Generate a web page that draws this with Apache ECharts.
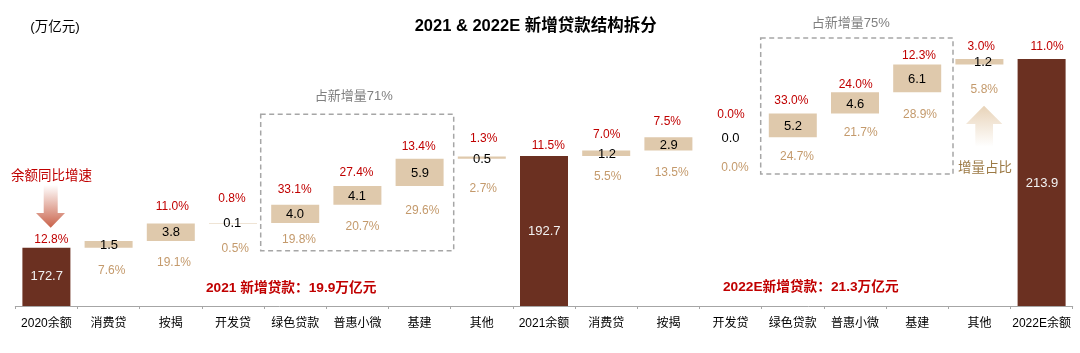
<!DOCTYPE html>
<html>
<head>
<meta charset="utf-8">
<style>
html,body{margin:0;padding:0;background:#fff;}
#chart{width:1080px;height:353px;}
</style>
<script src="https://cdn.jsdelivr.net/npm/echarts@6/dist/echarts.min.js"></script>
</head>
<body>
<div id="chart"></div>
<script>
var categories = ['2020余额','消费贷','按揭','开发贷','绿色贷款','普惠小微','基建','其他','2021余额','消费贷','按揭','开发贷','绿色贷款','普惠小微','基建','其他','2022E余额'];
// 余额 (万亿元)，非余额列为 null
var balances = [172.7,null,null,null,null,null,null,null,192.7,null,null,null,null,null,null,null,213.9];
// 新增贷款 (万亿元)
var increments = [null,1.5,3.8,0.1,4.0,4.1,5.9,0.5,null,1.2,2.9,0.0,5.2,4.6,6.1,1.2,null];
// 悬空柱底部
var bases = [null,172.7,174.2,178.0,178.1,182.1,186.2,192.1,null,192.7,193.9,196.8,196.8,202.0,206.6,212.7,null];
var growthLabels = ['12.8%',null,'11.0%','0.8%','33.1%','27.4%','13.4%','1.3%','11.5%','7.0%','7.5%','0.0%','33.0%','24.0%','12.3%','3.0%','11.0%'];
var shareLabels = [null,'7.6%','19.1%','0.5%','19.8%','20.7%','29.6%','2.7%',null,'5.5%','13.5%','0.0%','24.7%','21.7%','28.9%','5.8%',null];

// 标签相对柱顶的手动偏移 (px)
var growthNudge = [[4.9,-7.7],null,[1.5,-16.7],[-1,-24.6],[-.5,-14.6],[-.9,-12.7],[-.9,-12.6],[1.9,-17.7],[4.3,-10.2],[.5,-15.4],[-1.1,-15.1],[.4,-22.4],[-1.5,-12.6],[.7,-8.1],[1.8,-8.8],[1.9,-12.6],[5.4,-12.6]];
var valueNudge = [[.3,29],[.4,4.2],[.2,8.9],[-.7,.8],[-.2,9.4],[-.4,11],[.4,14.1],[.2,2.9],[.3,75.8],[.8,3.9],[.3,7.9],[-.1,1.2],[.2,12.7],[.3,11.6],[-.2,14.6],[3.6,3.4],[.4,124.4]];
var shareNudge = [null,[3.1,29.5],[3.2,39.6],[2.3,26.1],[3.8,35.4],[5.1,41.3],[2.7,51.7],[1.5,32.6],null,[1.5,25.9],[3.3,35.2],[4.4,30.2],[4.2,43.4],[5.7,39.9],[2.8,49.9],[4.9,30.7],null];

var FONT = '"Liberation Sans","Noto Sans CJK SC",sans-serif';
var RED = '#c00000', TAN = '#c49a6c', BROWN = '#6b3021', SAND = '#dfc9ac', GREY = '#a6a6a6';

function topOf(i) {
    return balances[i] != null ? balances[i] : bases[i] + increments[i];
}

var valueLabels = categories.map(function (c, i) {
    return (balances[i] != null ? balances[i] : increments[i]).toFixed(1);
});

function labelSeries(texts, nudges, style) {
    var data = [];
    for (var i = 0; i < categories.length; i++) {
        if (texts[i] == null) continue;
        data.push({
            value: [i, topOf(i)],
            name: texts[i],
            label: {offset: nudges[i], color: style.color ? style.color : (balances[i] != null ? '#f2f2f2' : '#000')}
        });
    }
    return {
        type: 'scatter',
        symbolSize: 1,
        // scatter 默认 opacity 0.8 会带到标签上
        itemStyle: {color: 'rgba(0,0,0,0)', opacity: 1},
        silent: true,
        z: 5,
        data: data,
        label: {
            show: true,
            position: 'inside',
            fontFamily: FONT,
            fontSize: style.size,
            formatter: function (p) { return p.name; }
        }
    };
}

function text(x, y, s, size, color, weight) {
    return {
        type: 'text', x: x, y: y,
        style: {text: s, fontFamily: FONT, fontSize: size, fill: color, fontWeight: weight || 'normal', align: 'center', verticalAlign: 'middle'}
    };
}

function dashBox(x, y, w, h) {
    return {
        type: 'rect', shape: {x: x, y: y, width: w, height: h},
        style: {fill: null, stroke: GREY, lineWidth: 1.5, lineDash: [5, 3.5]}
    };
}

function arrow(points, from, to) {
    return {
        type: 'polygon', shape: {points: points},
        style: {
            fill: new echarts.graphic.LinearGradient(0, 0, 0, 1, [
                {offset: 0, color: from},
                {offset: 1, color: to}
            ])
        }
    };
}

var chart = echarts.init(document.getElementById('chart'), null, {renderer: 'canvas'});
chart.setOption({
    animation: false,
    backgroundColor: '#fff',
    grid: {left: 15.3, right: 7.3, top: 8, bottom: 47},
    xAxis: {
        type: 'category',
        data: categories,
        axisLine: {lineStyle: {color: GREY, width: 1}},
        axisTick: {show: true, length: 3, alignWithLabel: false, lineStyle: {color: GREY}},
        axisLabel: {interval: 0, color: '#000', fontFamily: FONT, fontSize: 12, margin: 12}
    },
    yAxis: {type: 'value', min: 160, max: 225, show: false, splitLine: {show: false}},
    series: [
        {type: 'bar', stack: 'w', barWidth: 48, data: bases, itemStyle: {color: 'transparent'}, silent: true},
        {type: 'bar', stack: 'w', barWidth: 48, data: increments, itemStyle: {color: SAND}, silent: true},
        {type: 'bar', stack: 'w', barWidth: 48, data: balances, itemStyle: {color: BROWN}, silent: true},
        labelSeries(growthLabels, growthNudge, {color: RED, size: 12}),
        labelSeries(valueLabels, valueNudge, {size: 13}),
        labelSeries(shareLabels, shareNudge, {color: TAN, size: 12})
    ],
    graphic: [
        text(535.7, 26, '2021 & 2022E 新增贷款结构拆分', 16.5, '#000', 'bold'),
        text(55, 27, '(万亿元)', 13.5, '#000'),
        dashBox(260.7, 114.3, 193, 136.4),
        dashBox(760.7, 38, 192.3, 136),
        text(353.7, 96, '占新增量71%', 13, '#7f7f7f'),
        text(850.7, 23.3, '占新增量75%', 13, '#7f7f7f'),
        text(51.5, 176, '余额同比增速', 13.5, RED),
        text(985, 168.3, '增量占比', 13.5, '#9c7a45'),
        text(291.2, 288.7, '2021 新增贷款：19.9万亿元', 13.7, RED, 'bold'),
        text(810.8, 287.5, '2022E新增贷款：21.3万亿元', 13.7, RED, 'bold'),
        arrow([[43.7,185],[57.7,185],[57.7,213],[65,213],[50.7,227.7],[36,213],[43.7,213]], '#ffffff', '#c9624a'),
        arrow([[984,105.7],[1002.3,124],[993,124],[993,146.7],[975.3,146.7],[975.3,124],[966,124]], '#e8d3b8', '#ffffff')
    ]
});
</script>
</body>
</html>
